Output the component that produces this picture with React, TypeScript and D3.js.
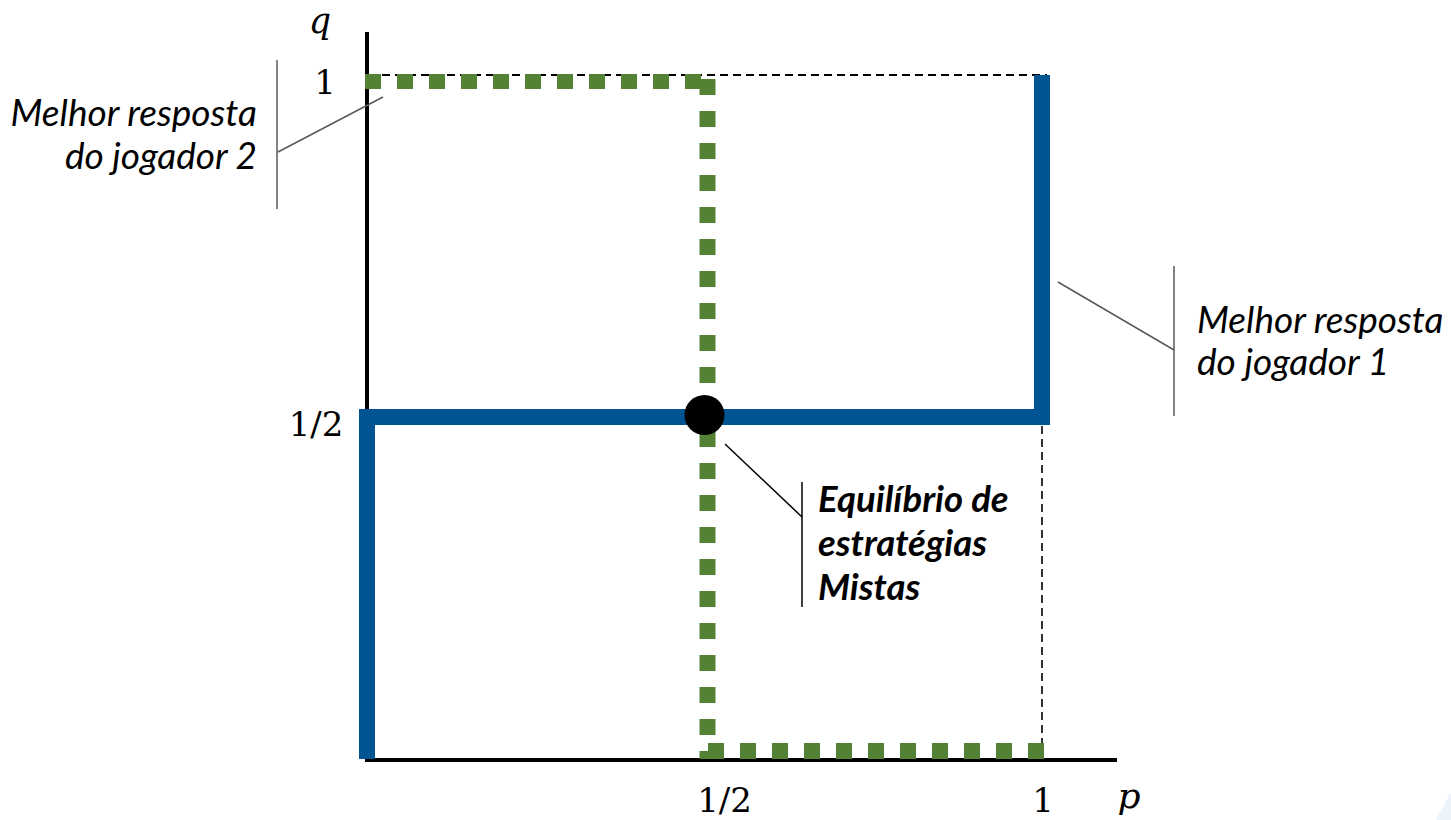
import React from "react";
import * as d3 from "d3";

// ---- data ----
const pTickValues = [0.5, 1];
const pTickLabels = ["1/2", "1"];
const qTickValues = [0.5, 1];
const qTickLabels = ["1/2", "1"];

// best response of player 1 (blue, solid)
const bestResponse1 = [
  { p: 0, q: 0 },
  { p: 0, q: 0.5 },
  { p: 1, q: 0.5 },
  { p: 1, q: 1 },
];
// best response of player 2 (green, dotted) – three segments
const bestResponse2Top = [
  { p: 0, q: 1 },
  { p: 0.5, q: 1 },
];
const bestResponse2Mid = [
  { p: 0.5, q: 1 },
  { p: 0.5, q: 0 },
];
const bestResponse2Bottom = [
  { p: 0.5, q: 0 },
  { p: 1, q: 0 },
];
const guideTop = [
  { p: 0, q: 1 },
  { p: 1, q: 1 },
];
const guideRight = [
  { p: 1, q: 0.5 },
  { p: 1, q: 0 },
];
const equilibrium = { p: 0.5, q: 0.5 };

const label2 = ["Melhor resposta", "do jogador 2"];
const label1 = ["Melhor resposta", "do jogador 1"];
const labelEq = ["Equilíbrio de", "estratégias", "Mistas"];

// ---- style ----
const BLUE = "#035493";
const GREEN = "#548235";
const GREY = "#595959";
const MATH_FONT = "'DejaVu Serif', serif";
const TEXT_FONT = "Lato, 'Open Sans', sans-serif";

const W = 1451;
const H = 820;

const x = d3.scaleLinear().domain([0, 1]).range([367, 1042]);
const y = d3.scaleLinear().domain([0, 1]).range([759, 75]);

type Pt = { p: number; q: number };

const line = (dx = 0, dy = 0) =>
  d3
    .line<Pt>()
    .x((d) => x(d.p) + dx)
    .y((d) => y(d.q) + dy);

export default function App() {
  const segLine = (pts: Pt[], dx0: number, dy0: number, dx1: number, dy1: number) =>
    d3.line<[number, number]>()([
      [x(pts[0].p) + dx0, y(pts[0].q) + dy0],
      [x(pts[1].p) + dx1, y(pts[1].q) + dy1],
    ]) as string;

  const xTickDx = [20, 1];
  const yTickX = [316, 325];

  return (
    <svg
      width={W}
      height={H}
      viewBox={`0 0 ${W} ${H}`}
      style={{ position: "absolute", left: 0, top: 0, background: "#fff" }}
    >
      <rect x={0} y={0} width={W} height={H} fill="#fff" />
      {/* faint corner watermark */}
      <polygon points="1436,820 1451,792 1451,820" fill="#edf3fa" />

      {/* axes */}
      <line x1={x(0)} y1={32} x2={x(0)} y2={762} stroke="#000" strokeWidth={4} />
      <line x1={365} y1={760} x2={1117} y2={760} stroke="#000" strokeWidth={4} />

      {/* thin dashed guides */}
      <path
        d={segLine(guideTop, 2, 0, 5, 0)}
        stroke="#000"
        strokeWidth={2}
        strokeDasharray="8 5"
        fill="none"
      />
      <path
        d={segLine(guideRight, 0, 9, 0, -14)}
        stroke="#000"
        strokeWidth={1.6}
        strokeDasharray="8 5"
        fill="none"
      />

      {/* best response player 1 */}
      <path
        d={line()(bestResponse1) as string}
        stroke={BLUE}
        strokeWidth={16}
        fill="none"
        strokeLinejoin="miter"
        strokeLinecap="butt"
      />

      {/* best response player 2 */}
      <path
        d={segLine(bestResponse2Top, -2, 6.5, -2.5, 6.5)}
        stroke={GREEN}
        strokeWidth={15}
        strokeDasharray="16 16"
        fill="none"
      />
      <path
        d={segLine(bestResponse2Mid, 3, 4, 3, 0)}
        stroke={GREEN}
        strokeWidth={16}
        strokeDasharray="16 16"
        fill="none"
      />
      <path
        d={segLine(bestResponse2Bottom, 3.5, -8, 2, -8)}
        stroke={GREEN}
        strokeWidth={16}
        strokeDasharray="16 16"
        fill="none"
      />

      {/* equilibrium */}
      <circle cx={x(equilibrium.p)} cy={y(equilibrium.q) - 2} r={20} fill="#000" />

      {/* axis titles */}
      <text x={320} y={33} fontFamily={MATH_FONT} fontStyle="italic" fontSize={35} textAnchor="middle">
        q
      </text>
      <text x={1129} y={808} fontFamily={MATH_FONT} fontStyle="italic" fontSize={36} textAnchor="middle">
        p
      </text>

      {/* tick labels */}
      {pTickValues.map((v, i) => (
        <text
          key={"px" + i}
          x={x(v) + xTickDx[i]}
          y={812}
          fontFamily={MATH_FONT}
          fontSize={34}
          textAnchor="middle"
        >
          {pTickLabels[i]}
        </text>
      ))}
      {qTickValues.map((v, i) => (
        <text
          key={"qy" + i}
          x={yTickX[i]}
          y={y(v) + 19}
          fontFamily={MATH_FONT}
          fontSize={34}
          textAnchor="middle"
        >
          {qTickLabels[i]}
        </text>
      ))}

      {/* annotation: player 2 */}
      <line x1={277} y1={60} x2={277} y2={209} stroke={GREY} strokeWidth={1.5} />
      <line x1={278} y1={152} x2={383} y2={97} stroke={GREY} strokeWidth={1.5} />
      {label2.map((t, i) => (
        <text
          key={"l2" + i}
          x={257}
          y={126 + i * 43}
          fontFamily={TEXT_FONT}
          fontStyle="italic"
          fontSize={37}
          textAnchor="end"
        >
          {t}
        </text>
      ))}

      {/* annotation: player 1 */}
      <line x1={1174} y1={266} x2={1174} y2={416} stroke={GREY} strokeWidth={1.5} />
      <line x1={1058} y1={282} x2={1174} y2={350} stroke={GREY} strokeWidth={1.5} />
      {label1.map((t, i) => (
        <text
          key={"l1" + i}
          x={1197}
          y={333 + i * 42}
          fontFamily={TEXT_FONT}
          fontStyle="italic"
          fontSize={37}
        >
          {t}
        </text>
      ))}

      {/* annotation: equilibrium */}
      <line x1={802} y1={482} x2={802} y2={607} stroke="#000" strokeWidth={1.5} />
      <line x1={725} y1={444} x2={802} y2={517} stroke="#000" strokeWidth={1.5} />
      {labelEq.map((t, i) => (
        <text
          key={"le" + i}
          x={818}
          y={512 + i * 44}
          fontFamily={TEXT_FONT}
          fontStyle="italic"
          fontWeight="bold"
          fontSize={36.5}
        >
          {t}
        </text>
      ))}
    </svg>
  );
}
